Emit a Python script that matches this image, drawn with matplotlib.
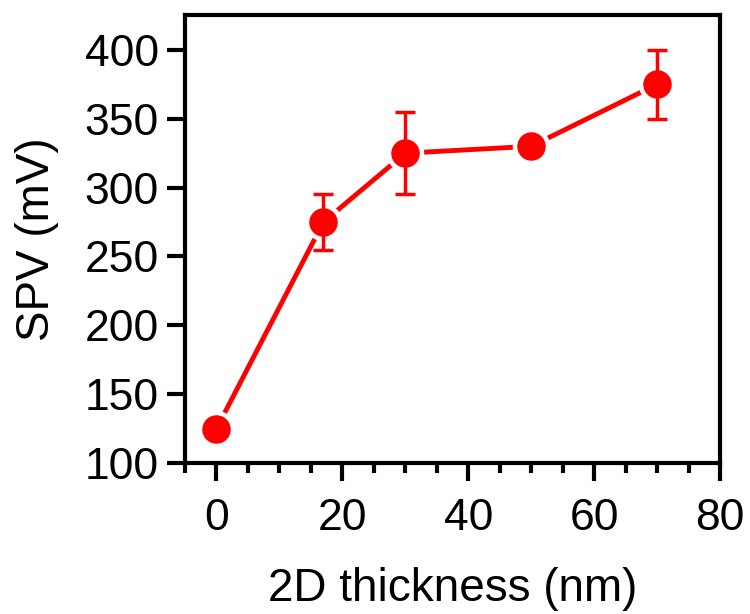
import numpy as np
import matplotlib.pyplot as plt
from matplotlib.ticker import MultipleLocator

plt.rcParams['font.family'] = ['Liberation Sans', 'DejaVu Sans']

# data
thickness = [0, 17, 30, 50, 70]
spv = [125, 275, 325, 330, 375]
spv_err = [0, 20, 30, 0, 25]

fig = plt.figure(figsize=(7.5, 6.14), dpi=100)
ax = fig.add_axes([0.2467, 0.2459, 0.7133, 0.7289])

# line first, then a white halo under each marker to get the gap look
ax.plot(thickness, spv, color='red', lw=3.5, zorder=1)
ax.plot(thickness, spv, ls='none', marker='o', ms=26, color='white', zorder=2)
ax.errorbar(thickness, spv, yerr=spv_err, fmt='o', color='red', ms=19.5,
            elinewidth=2.5, capsize=7, capthick=2.5, zorder=3)

ax.set_xlim(-5, 80)
ax.set_ylim(100, 425)
ax.xaxis.set_major_locator(MultipleLocator(20))
ax.xaxis.set_minor_locator(MultipleLocator(5))
ax.yaxis.set_major_locator(MultipleLocator(50))

for s in ax.spines.values():
    s.set_linewidth(3)
ax.tick_params(which='major', direction='out', length=13, width=3,
               labelsize=32, pad=6)
ax.tick_params(axis='x', which='major', pad=12)
ax.tick_params(which='minor', direction='out', length=7, width=3)

ax.set_xlabel('2D thickness (nm)', fontsize=33, labelpad=20)
ax.set_ylabel('SPV (mV)', fontsize=33, labelpad=18)

fig.savefig('out.png', dpi=100)
